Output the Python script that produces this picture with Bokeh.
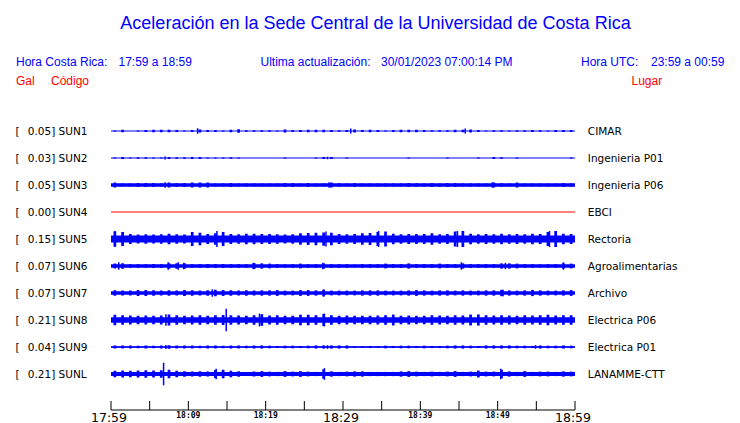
from bokeh.plotting import figure
from bokeh.models import Range1d
from bokeh.embed import file_html
from bokeh.resources import INLINE
from bokeh.core.properties import value

# ---------------- data ----------------
TITLE = "Aceleración en la Sede Central de la Universidad de Costa Rica"
HORA_CR = "17:59 a 18:59"
ACTUALIZACION = "30/01/2023 07:00:14 PM"
HORA_UTC = "23:59 a 00:59"

STATIONS = ["SUN1", "SUN2", "SUN3", "SUN4", "SUN5", "SUN6", "SUN7", "SUN8", "SUN9", "SUNL"]
PEAK_GAL = [0.05, 0.03, 0.05, 0.00, 0.15, 0.07, 0.07, 0.21, 0.04, 0.21]
PLACES = ["CIMAR", "Ingenieria P01", "Ingenieria P06", "EBCI", "Rectoria",
          "Agroalimentarias", "Archivo", "Electrica P06", "Electrica P01", "LANAMME-CTT"]

# typical background (noise floor) half amplitude, Gal
CORE_GAL = [0.0, 0.0, 0.033, 0.0, 0.066, 0.032, 0.035, 0.052, 0.012, 0.038]

# per-minute envelope half amplitude (Gal), minutes 0..59 from 17:59
SUN1 = [0.01, 0.025, 0.0, 0.01, 0.02, 0.025, 0.025, 0.025, 0.02, 0.01,
        0.02, 0.03, 0.02, 0.02, 0.01, 0.025, 0.035, 0.015, 0.015, 0.015,
        0.015, 0.01, 0.03, 0.02, 0.02, 0.025, 0.025, 0.025, 0.02, 0.015,
        0.02, 0.03, 0.02, 0.025, 0.02, 0.01, 0.02, 0.025, 0.025, 0.025,
        0.02, 0.015, 0.015, 0.015, 0.025, 0.025, 0.03, 0.02, 0.01, 0.015,
        0.015, 0.01, 0.015, 0.015, 0.02, 0.015, 0.01, 0.02, 0.02, 0.02]
SUN2 = [0.01, 0.02, 0.01, 0.015, 0.015, 0.01, 0.01, 0.02, 0.015, 0.015,
        0.02, 0.02, 0.01, 0.01, 0.01, 0.015, 0.01, 0.0, 0.0, 0.0,
        0.0, 0.0, 0.01, 0.0, 0.0, 0.0, 0.01, 0.02, 0.02, 0.0,
        0.01, 0.0, 0.0, 0.0, 0.0, 0.0, 0.0, 0.0, 0.01, 0.0,
        0.0, 0.0, 0.0, 0.01, 0.0, 0.0, 0.0, 0.01, 0.0, 0.02,
        0.015, 0.0, 0.01, 0.0, 0.0, 0.0, 0.0, 0.0, 0.0, 0.01]
SUN3 = [0.045, 0.03, 0.03, 0.04, 0.04, 0.04, 0.03, 0.045, 0.035, 0.04,
        0.045, 0.045, 0.045, 0.03, 0.03, 0.04, 0.03, 0.03, 0.03, 0.03,
        0.03, 0.03, 0.04, 0.04, 0.03, 0.04, 0.03, 0.03, 0.045, 0.035,
        0.03, 0.04, 0.03, 0.03, 0.03, 0.03, 0.03, 0.03, 0.04, 0.035,
        0.03, 0.04, 0.03, 0.04, 0.04, 0.03, 0.03, 0.03, 0.03, 0.045,
        0.035, 0.03, 0.045, 0.03, 0.03, 0.03, 0.03, 0.03, 0.04, 0.03]
SUN4 = [0.0, 0.0, 0.0, 0.0, 0.0, 0.0, 0.0, 0.0, 0.0, 0.0,
        0.0, 0.0, 0.0, 0.0, 0.0, 0.0, 0.0, 0.0, 0.0, 0.0,
        0.0, 0.0, 0.0, 0.0, 0.0, 0.0, 0.0, 0.0, 0.0, 0.0,
        0.0, 0.0, 0.0, 0.0, 0.0, 0.0, 0.0, 0.0, 0.0, 0.0,
        0.0, 0.0, 0.0, 0.0, 0.0, 0.0, 0.0, 0.0, 0.0, 0.0,
        0.0, 0.0, 0.0, 0.0, 0.0, 0.0, 0.0, 0.0, 0.0, 0.0]
SUN5 = [0.14, 0.13, 0.095, 0.085, 0.09, 0.085, 0.09, 0.1, 0.09, 0.085,
        0.13, 0.12, 0.095, 0.11, 0.13, 0.095, 0.09, 0.1, 0.1, 0.095,
        0.095, 0.09, 0.085, 0.09, 0.11, 0.115, 0.12, 0.125, 0.12, 0.095,
        0.09, 0.095, 0.11, 0.115, 0.13, 0.14, 0.1, 0.09, 0.095, 0.095,
        0.095, 0.11, 0.09, 0.095, 0.14, 0.15, 0.1, 0.09, 0.095, 0.09,
        0.1, 0.09, 0.095, 0.09, 0.1, 0.095, 0.13, 0.15, 0.1, 0.095]
SUN6 = [0.045, 0.05, 0.035, 0.035, 0.035, 0.04, 0.035, 0.05, 0.05, 0.05,
        0.035, 0.035, 0.04, 0.04, 0.04, 0.035, 0.035, 0.035, 0.055, 0.05,
        0.045, 0.035, 0.03, 0.035, 0.045, 0.035, 0.035, 0.05, 0.035, 0.035,
        0.035, 0.025, 0.035, 0.035, 0.035, 0.045, 0.035, 0.035, 0.05, 0.035,
        0.035, 0.035, 0.045, 0.035, 0.035, 0.05, 0.035, 0.035, 0.035, 0.035,
        0.05, 0.05, 0.045, 0.035, 0.035, 0.03, 0.035, 0.035, 0.05, 0.045]
SUN7 = [0.05, 0.045, 0.045, 0.055, 0.055, 0.05, 0.045, 0.05, 0.045, 0.055,
        0.05, 0.045, 0.05, 0.06, 0.055, 0.05, 0.045, 0.05, 0.045, 0.05,
        0.05, 0.055, 0.045, 0.045, 0.055, 0.055, 0.05, 0.06, 0.045, 0.045,
        0.045, 0.045, 0.05, 0.05, 0.05, 0.045, 0.045, 0.045, 0.05, 0.055,
        0.05, 0.045, 0.05, 0.05, 0.045, 0.05, 0.045, 0.045, 0.05, 0.05,
        0.06, 0.05, 0.045, 0.05, 0.055, 0.05, 0.045, 0.045, 0.05, 0.055]
SUN8 = [0.1, 0.09, 0.085, 0.08, 0.085, 0.08, 0.085, 0.105, 0.09, 0.08,
        0.085, 0.09, 0.08, 0.09, 0.095, 0.09, 0.085, 0.08, 0.09, 0.11,
        0.085, 0.09, 0.08, 0.08, 0.1, 0.1, 0.09, 0.115, 0.09, 0.08,
        0.085, 0.08, 0.08, 0.08, 0.085, 0.09, 0.1, 0.08, 0.085, 0.08,
        0.08, 0.09, 0.085, 0.08, 0.09, 0.085, 0.1, 0.105, 0.09, 0.085,
        0.09, 0.085, 0.08, 0.09, 0.085, 0.09, 0.1, 0.085, 0.09, 0.09]
SUN9 = [0.03, 0.03, 0.03, 0.025, 0.03, 0.025, 0.03, 0.035, 0.03, 0.03,
        0.03, 0.025, 0.03, 0.03, 0.025, 0.03, 0.03, 0.025, 0.03, 0.03,
        0.025, 0.02, 0.025, 0.025, 0.02, 0.025, 0.03, 0.03, 0.03, 0.03,
        0.03, 0.015, 0.015, 0.02, 0.015, 0.025, 0.02, 0.025, 0.025, 0.02,
        0.025, 0.02, 0.02, 0.025, 0.03, 0.03, 0.025, 0.02, 0.03, 0.03,
        0.03, 0.03, 0.025, 0.025, 0.02, 0.03, 0.025, 0.025, 0.03, 0.025]
SUNL = [0.06, 0.065, 0.06, 0.065, 0.07, 0.065, 0.07, 0.08, 0.06, 0.05,
        0.045, 0.05, 0.045, 0.075, 0.08, 0.06, 0.05, 0.04, 0.045, 0.055,
        0.045, 0.04, 0.055, 0.045, 0.055, 0.045, 0.04, 0.09, 0.05, 0.04,
        0.045, 0.05, 0.05, 0.04, 0.04, 0.04, 0.04, 0.05, 0.055, 0.045,
        0.04, 0.045, 0.04, 0.045, 0.055, 0.04, 0.045, 0.065, 0.045, 0.045,
        0.08, 0.05, 0.04, 0.055, 0.04, 0.045, 0.045, 0.04, 0.05, 0.045]
ENVELOPES = [SUN1, SUN2, SUN3, SUN4, SUN5, SUN6, SUN7, SUN8, SUN9, SUNL]

# isolated spikes: (minute after 17:59, half amplitude in Gal)
SPIKES = [
    [(11.2, 0.05), (31.0, 0.045), (45.8, 0.045)],
    [(7.0, 0.03), (28.0, 0.025)],
    [(7.0, 0.05), (28.2, 0.05), (49.3, 0.05)],
    [],
    [(0.5, 0.15), (13.7, 0.15), (27.8, 0.14), (34.6, 0.15), (44.8, 0.15), (56.7, 0.15)],
    [(1.0, 0.07), (7.4, 0.07), (8.7, 0.07), (9.4, 0.06), (18.4, 0.06), (27.4, 0.06),
     (45.3, 0.07), (51.0, 0.06), (58.5, 0.07)],
    [(13.1, 0.07), (27.5, 0.07), (50.7, 0.06), (54.5, 0.06)],
    [(14.9, 0.21), (19.2, 0.12), (7.1, 0.11), (27.6, 0.12), (46.5, 0.1), (36.5, 0.1)],
    [(7.1, 0.04), (28.0, 0.035), (54.9, 0.035)],
    [(6.8, 0.21), (13.6, 0.1), (27.6, 0.11), (50.4, 0.1)],
]

TICK_MINUTES = [0, 5, 10, 15, 20, 25, 30, 35, 40, 45, 50, 55, 60]
LABEL_MINUTES = [0, 10, 20, 30, 40, 50, 60]
TICK_LABELS = ["17:59", "18:09", "18:19", "18:29", "18:39", "18:49", "18:59"]
MAJOR_LABELS = [True, False, False, True, False, False, True]

# ---------------- layout / style ----------------
W, H = 740, 423
PAGE_X0, PAGE_Y0 = 0, 0
PX_PER_MIN = 464.0 / 60.0
X_ZERO_PAGE = 110.5
X0 = -(X_ZERO_PAGE - PAGE_X0) / PX_PER_MIN
X1 = (PAGE_X0 + W - X_ZERO_PAGE) / PX_PER_MIN
TRACE_TOP = 130.5
TRACE_GAP = 27.0
PX_PER_GAL = 53.0
BUMP_WIDTH = 0.35
AXIS_Y = 409.5
TICK_LEN = 9.0
BLUE = "#0000ff"
RED = "#ff0000"
SANS = value("Liberation Sans")
DEJAVU = value("DejaVu Sans")

p = figure(width=W, height=H, output_backend="svg", toolbar_location=None,
           x_range=Range1d(X0, X1), y_range=Range1d(PAGE_Y0 + H, PAGE_Y0),
           x_axis_type=None, y_axis_type=None, min_border=0)
p.extra_x_ranges = {"px": Range1d(PAGE_X0, PAGE_X0 + W)}
p.outline_line_color = None
p.background_fill_color = "white"
p.border_fill_color = "white"

# header texts (page-pixel x)
p.text(x=[375], y=[22], text=[TITLE], x_range_name="px", text_font=SANS,
       text_font_size="18px", text_color=BLUE, text_align="center", text_baseline="middle")
p.text(x=[15.5, 118, 260, 380.5, 580.5, 650.5], y=[61] * 6,
       text=["Hora Costa Rica:", HORA_CR, "Ultima actualización:", ACTUALIZACION, "Hora UTC:", HORA_UTC],
       x_range_name="px", text_font=SANS, text_font_size="12px", text_color=BLUE,
       text_align="left", text_baseline="middle")
p.text(x=[15.5, 50.5, 631], y=[80] * 3, text=["Gal", "Código", "Lugar"],
       x_range_name="px", text_font=SANS, text_font_size="12px", text_color=RED,
       text_align="left", text_baseline="middle")

# traces
for i, st in enumerate(STATIONS):
    base = TRACE_TOP + TRACE_GAP * i
    color = RED if PEAK_GAL[i] == 0 else BLUE
    p.segment(x0=[0], x1=[60], y0=[base], y1=[base], line_color=color, line_width=1.2)
    if CORE_GAL[i] > 0:
        c = CORE_GAL[i] * PX_PER_GAL
        p.quad(left=[0], right=[60], top=[base - c], bottom=[base + c],
               fill_color=color, line_color=None)
    env = ENVELOPES[i]
    xs = [m + 0.5 for m in range(len(env)) if env[m] > 0]
    amps = [env[m] * PX_PER_GAL for m in range(len(env)) if env[m] > 0]
    if xs:
        p.vbar(x=xs, width=BUMP_WIDTH, top=[base - a for a in amps], bottom=[base + a for a in amps],
               fill_color=color, line_color=None)
    if SPIKES[i]:
        sx = [s[0] for s in SPIKES[i]]
        sa = [s[1] * PX_PER_GAL for s in SPIKES[i]]
        p.segment(x0=sx, x1=sx, y0=[base - a for a in sa], y1=[base + a for a in sa],
                  line_color=color, line_width=1.5)
    # labels
    p.text(x=[15], y=[base], text=["["], x_range_name="px", text_font=DEJAVU,
           text_font_size="10.5px", text_color="black", text_align="left", text_baseline="middle")
    p.text(x=[27.3], y=[base], text=[f"{PEAK_GAL[i]:.2f}] {st}"], x_range_name="px", text_font=DEJAVU,
           text_font_size="10.5px", text_color="black", text_align="left", text_baseline="middle")
    p.text(x=[587.3], y=[base], text=[PLACES[i]], x_range_name="px", text_font=DEJAVU,
           text_font_size="10.5px", text_color="black", text_align="left", text_baseline="middle")

# time axis
p.segment(x0=[0], x1=[60], y0=[AXIS_Y], y1=[AXIS_Y], line_color="black", line_width=1)
p.segment(x0=TICK_MINUTES, x1=TICK_MINUTES, y0=[AXIS_Y - TICK_LEN] * len(TICK_MINUTES),
          y1=[AXIS_Y] * len(TICK_MINUTES), line_color="black", line_width=1)
maj_x = [m for m, big in zip(LABEL_MINUTES, MAJOR_LABELS) if big]
maj_t = [t for t, big in zip(TICK_LABELS, MAJOR_LABELS) if big]
min_x = [m for m, big in zip(LABEL_MINUTES, MAJOR_LABELS) if not big]
min_t = [t for t, big in zip(TICK_LABELS, MAJOR_LABELS) if not big]
p.text(x=maj_x, y=[416.5] * len(maj_x), text=maj_t, text_font=DEJAVU, text_font_size="12.5px",
       text_color="black", text_align="center", text_baseline="middle", x_offset=-2)
p.text(x=min_x, y=[414.5] * len(min_x), text=min_t, text_font=value("DejaVu Sans Mono"),
       text_font_size="8px", text_font_style="bold", text_color="black",
       text_align="center", text_baseline="middle")

open("out.html", "w").write(file_html(p, INLINE))
